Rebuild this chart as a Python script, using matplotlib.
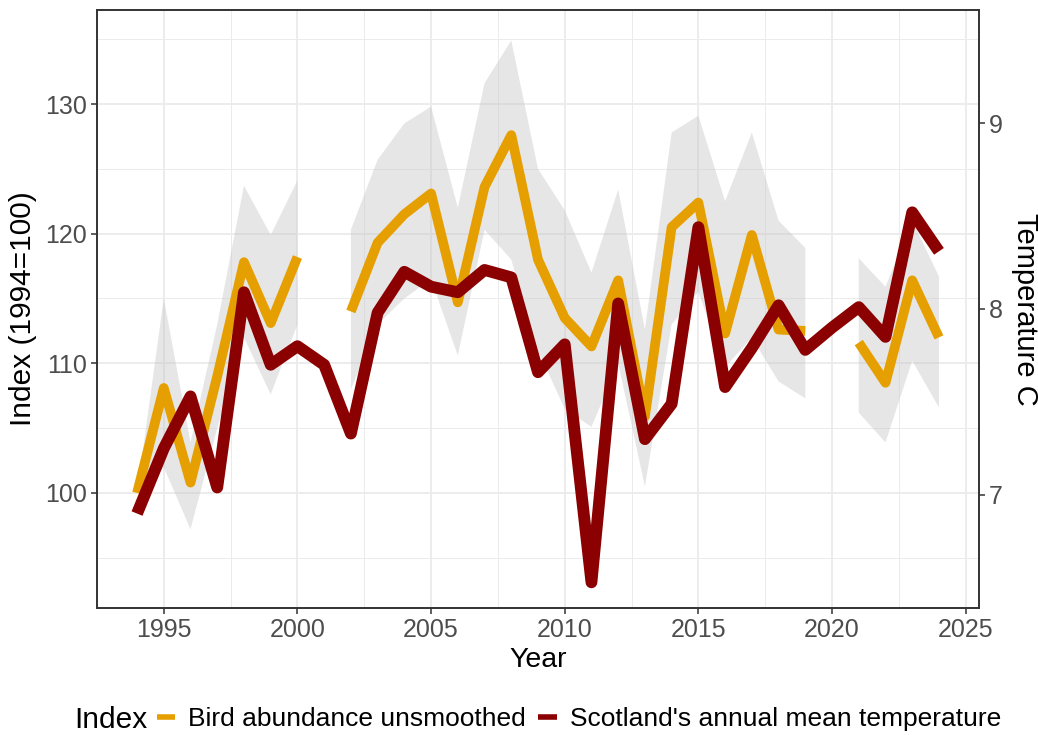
import numpy as np
import matplotlib
matplotlib.use("Agg")
import matplotlib.pyplot as plt
from matplotlib.lines import Line2D

plt.rcParams['font.family'] = ['Liberation Sans', 'DejaVu Sans']

years = list(range(1994, 2025))

# Bird abundance index (1994=100); NaN where no survey
bird_index = [100.0, 108.1, 100.8, 109.0, 117.8, 113.1, 118.2, np.nan, 114.0, 119.3,
              121.5, 123.1, 114.7, 123.6, 127.6, 118.0, 113.5, 111.3, 116.4, 105.9,
              120.5, 122.4, 112.3, 119.9, 112.6, 112.5, np.nan, 111.6, 108.5, 116.4,
              112.0]
bird_upper = [100.0, 115.0, 103.9, 113.0, 123.7, 119.9, 124.1, np.nan, 120.3, 125.7,
              128.5, 129.8, 122.0, 131.6, 134.9, 125.0, 121.8, 117.0, 123.4, 112.6,
              127.8, 129.1, 122.5, 127.8, 121.0, 118.9, np.nan, 118.1, 115.9, 121.0,
              116.7]
bird_lower = [100.0, 102.0, 97.2, 105.0, 112.0, 107.6, 113.0, np.nan, 108.0, 113.0,
              115.0, 116.5, 110.6, 120.3, 118.0, 111.0, 106.5, 105.1, 110.0, 100.5,
              113.0, 115.5, 109.7, 112.0, 108.6, 107.3, np.nan, 106.2, 103.9, 110.2,
              106.6]

# Scotland's annual mean temperature (deg C)
temperature = [6.90, 7.25, 7.53, 7.04, 8.09, 7.70, 7.80, 7.70, 7.33, 7.98,
               8.20, 8.12, 8.09, 8.21, 8.17, 7.66, 7.81, 6.53, 8.03, 7.30,
               7.49, 8.44, 7.58, 7.79, 8.02, 7.78, 7.90, 8.01, 7.85, 8.52,
               8.31]

orange = '#E69F00'
darkred = '#8B0000'
tick_col = '#4D4D4D'
grid_col = '#EBEBEB'

fig = plt.figure(figsize=(10.38, 7.35), dpi=100)
ax = fig.add_axes([0.0934, 0.1728, 0.8498, 0.8136])

# grid: major + minor, like theme_bw
ax.set_xlim(1992.5, 2025.5)
ax.set_ylim(91.13, 137.25)
ax.set_xticks([1995, 2000, 2005, 2010, 2015, 2020, 2025])
ax.set_xticks(np.arange(1992.5, 2026, 5), minor=True)
ax.set_yticks([100, 110, 120, 130])
ax.set_yticks([95, 105, 115, 125, 135], minor=True)
ax.grid(which='major', color=grid_col, lw=1.3)
ax.grid(which='minor', color=grid_col, lw=0.7)
ax.set_axisbelow(True)

ax.fill_between(years, bird_lower, bird_upper, color='#C8C8C8', alpha=0.45, lw=0)
ax.plot(years, bird_index, color=orange, lw=7, solid_capstyle='butt',
        solid_joinstyle='round')

ax2 = ax.twinx()
ax2.set_ylim(6.392, 9.608)
ax2.plot(years, temperature, color=darkred, lw=8.5, solid_capstyle='butt',
         solid_joinstyle='round')
ax2.set_yticks([7, 8, 9])

for a in (ax, ax2):
    for s in a.spines.values():
        s.set_color('#333333')
        s.set_linewidth(1.2)
    a.tick_params(which='major', length=4, width=1.1, color='#333333',
                  labelcolor=tick_col, labelsize=18, pad=3)
    a.tick_params(which='minor', length=0)

ax.set_xlabel('Year', fontsize=20.5, labelpad=4)
ax.set_ylabel('Index (1994=100)', fontsize=21.5, labelpad=6)
ax2.set_ylabel('Temperature C', fontsize=21, rotation=270, labelpad=26)

# legend along the bottom
fig.text(0.072, 0.0095, 'Index', fontsize=21.5, va='baseline', ha='left')
handles = [Line2D([], [], color=orange, lw=4, solid_capstyle='butt'),
           Line2D([], [], color=darkred, lw=4, solid_capstyle='butt')]
fig.legend(handles, ['Bird abundance unsmoothed', "Scotland's annual mean temperature"],
           loc='center left', bbox_to_anchor=(0.151, 0.022), ncol=2, frameon=False,
           fontsize=19, handlelength=0.7, handletextpad=0.5, columnspacing=0.45,
           borderpad=0, borderaxespad=0)

fig.savefig('out.png', dpi=100)
